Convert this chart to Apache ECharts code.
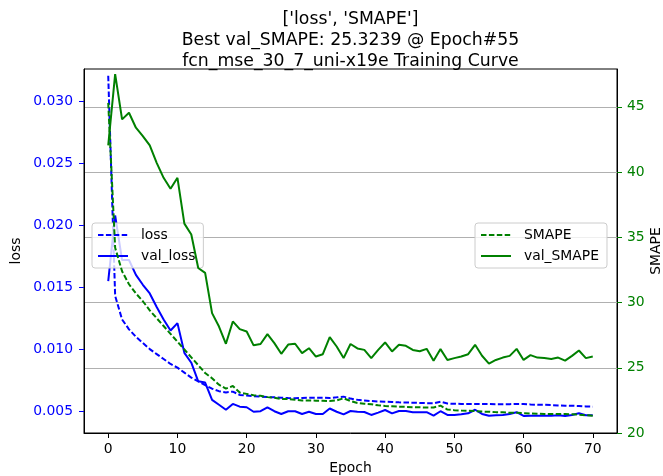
<!DOCTYPE html>
<html>
<head>
<meta charset="utf-8">
<script src="https://cdn.jsdelivr.net/npm/echarts@6/dist/echarts.min.js"></script>
<style>
html,body{margin:0;padding:0;background:#fff;}
#chart{width:663px;height:476px;}
</style>
</head>
<body>
<div id="chart"></div>
<script>
// ---- data ----
const epochs = [0,1,2,3,4,5,6,7,8,9,10,11,12,13,14,15,16,17,18,19,20,21,22,23,24,25,26,27,28,29,30,31,32,33,34,35,36,37,38,39,40,41,42,43,44,45,46,47,48,49,50,51,52,53,54,55,56,57,58,59,60,61,62,63,64,65,66,67,68,69,70];
const loss = [0.0321,0.0143,0.0124,0.0116,0.0110,0.0105,0.0100,0.0096,0.0092,0.0088,0.0085,0.0081,0.0077,0.0074,0.0071,0.0068,0.0066,0.0065,0.00656,0.0063,0.00625,0.0062,0.00616,0.00612,0.0061,0.00607,0.00604,0.00603,0.00605,0.00607,0.00607,0.00607,0.00605,0.0061,0.00616,0.006,0.0059,0.00585,0.0058,0.00577,0.00575,0.00573,0.0057,0.00568,0.00567,0.00565,0.00563,0.00562,0.00575,0.0056,0.00558,0.00557,0.00557,0.00557,0.00556,0.00556,0.00555,0.00555,0.00555,0.00557,0.00557,0.00553,0.0055,0.0055,0.00548,0.00545,0.00543,0.00542,0.0054,0.00537,0.00535];
const valLoss = [0.0155,0.0208,0.0172,0.0172,0.0160,0.0152,0.0145,0.0134,0.0124,0.0115,0.0121,0.0097,0.0089,0.0074,0.0073,0.0059,0.0055,0.0051,0.00557,0.00535,0.0053,0.00494,0.00498,0.0053,0.00498,0.00476,0.00498,0.00498,0.00476,0.00494,0.00476,0.00476,0.0052,0.00494,0.00473,0.005,0.00494,0.00492,0.00468,0.00487,0.00508,0.00481,0.005,0.005,0.0049,0.0049,0.0049,0.00462,0.00498,0.00468,0.00468,0.00473,0.00481,0.0051,0.00476,0.00462,0.00465,0.00468,0.00476,0.0049,0.0046,0.00462,0.00462,0.00462,0.00462,0.00465,0.0046,0.00468,0.00481,0.00465,0.00465];
const smape = [45.3,34.2,32.4,31.4,30.7,30.1,29.4,28.8,28.2,27.6,27.0,26.4,25.8,25.2,24.6,24.2,23.7,23.4,23.6,23.1,23.0,22.9,22.85,22.75,22.7,22.6,22.6,22.55,22.5,22.5,22.48,22.47,22.45,22.5,22.66,22.45,22.3,22.25,22.2,22.12,22.07,22.05,22.02,22.0,21.98,21.97,21.95,21.95,22.1,21.8,21.75,21.72,21.7,21.68,21.64,21.63,21.6,21.6,21.55,21.55,21.52,21.5,21.48,21.46,21.45,21.45,21.45,21.44,21.4,21.36,21.33];
const valSmape = [42.04,47.5,44.04,44.55,43.4,42.76,42.04,40.71,39.56,38.72,39.56,36.05,35.21,32.65,32.27,29.19,28.16,26.84,28.55,27.96,27.78,26.72,26.82,27.58,26.89,26.07,26.78,26.84,26.12,26.5,25.86,26.04,27.35,26.63,25.74,26.82,26.48,26.37,25.74,26.37,26.94,26.25,26.76,26.68,26.37,26.27,26.45,25.53,26.43,25.6,25.74,25.86,26.04,26.76,25.92,25.3239,25.6,25.78,25.91,26.45,25.6,25.97,25.78,25.74,25.68,25.78,25.55,25.91,26.32,25.74,25.86];
const xTicks = [0,10,20,30,40,50,60,70];
const lossTicks = [0.005,0.010,0.015,0.020,0.025,0.030];
const smapeTicks = [20,25,30,35,40,45];
const titleLines = ["['loss', 'SMAPE']", "Best val_SMAPE: 25.3239 @ Epoch#55", "fcn_mse_30_7_uni-x19e Training Curve"];

// ---- chart ----
const FONT = 'DejaVu Sans';
const BLUE = '#0000ff', GREEN = '#008000';
const pairs = (ys) => epochs.map((e, i) => [e, ys[i]]);
const chart = echarts.init(document.getElementById('chart'), null, {renderer: 'canvas'});
const legendBase = {
  orient: 'vertical', itemWidth: 30, itemHeight: 14, itemGap: 7,
  padding: [5, 8, 5, 5], borderColor: '#cccccc', borderWidth: 1, borderRadius: 3,
  backgroundColor: 'rgba(255,255,255,0.8)',
  itemStyle: {color: 'rgba(0,0,0,0)', borderWidth: 0, opacity: 0},
  textStyle: {fontFamily: FONT, fontSize: 13.9, color: '#000', padding: [0, 0, 0, 8]}
};
chart.setOption({
  animation: false,
  backgroundColor: '#fff',
  title: {
    text: titleLines.join('\n'), left: 350.5, top: 9, textAlign: 'center', padding: 0,
    textStyle: {fontFamily: FONT, fontSize: 17.3, fontWeight: 'normal', color: '#000', lineHeight: 21}
  },
  grid: {left: 84, right: 46, top: 69, bottom: 43, show: true, borderColor: '#000', borderWidth: 1,
    backgroundColor: 'transparent', containLabel: false, outerBoundsMode: 'none'},
  legend: [
    Object.assign({}, legendBase, {left: 92, top: 223, z: 4, data: ['loss', 'val_loss']}),
    Object.assign({}, legendBase, {left: 475, top: 223, z: 8, data: ['SMAPE', 'val_SMAPE']})
  ],
  xAxis: {
    type: 'value', min: -3.5, max: 73.5,
    name: 'Epoch', nameLocation: 'middle', nameGap: 28.5, nameMoveOverlap: false,
    nameTextStyle: {fontFamily: FONT, fontSize: 13.9, color: '#000'},
    axisLine: {show: true, onZero: false, lineStyle: {color: '#000', width: 1}},
    axisTick: {show: true, length: 5, lineStyle: {color: '#000'}, customValues: xTicks},
    axisLabel: {margin: 9, fontFamily: FONT, fontSize: 13.9, color: '#000', customValues: xTicks},
    splitLine: {show: false}
  },
  yAxis: [
    {
      type: 'value', position: 'left', min: 0.00322, max: 0.03264,
      name: 'loss', nameLocation: 'middle', nameGap: 61, nameRotate: 90, nameMoveOverlap: false,
      nameTextStyle: {fontFamily: FONT, fontSize: 13.9, color: '#000'},
      axisLine: {show: true, onZero: false, lineStyle: {color: '#000', width: 1}},
      axisTick: {show: true, length: 5, lineStyle: {color: BLUE}, customValues: lossTicks},
      axisLabel: {margin: 11, fontFamily: FONT, fontSize: 13.9, color: BLUE, customValues: lossTicks,
        formatter: v => v.toFixed(3)},
      splitLine: {show: false}
    },
    {
      type: 'value', position: 'right', min: 20, max: 47.9, interval: 5,
      name: 'SMAPE', nameLocation: 'middle', nameGap: 32, nameRotate: 90, nameMoveOverlap: false,
      nameTextStyle: {fontFamily: FONT, fontSize: 13.9, color: '#000'},
      axisLine: {show: true, onZero: false, lineStyle: {color: '#000', width: 1}},
      axisTick: {show: true, length: 5, lineStyle: {color: GREEN}, customValues: smapeTicks},
      axisLabel: {margin: 10, fontFamily: FONT, fontSize: 13.9, color: GREEN, customValues: smapeTicks},
      splitLine: {show: true, lineStyle: {color: '#b0b0b0', width: 1.1}}
    }
  ],
  series: [
    {name: 'loss', type: 'line', yAxisIndex: 0, data: pairs(loss), symbol: 'none', z: 2,
      lineStyle: {color: BLUE, width: 2, type: [5.5, 2.4]}, itemStyle: {color: BLUE}},
    {name: 'val_loss', type: 'line', yAxisIndex: 0, data: pairs(valLoss), symbol: 'none', z: 2,
      lineStyle: {color: BLUE, width: 2}, itemStyle: {color: BLUE}},
    {name: 'SMAPE', type: 'line', yAxisIndex: 1, data: pairs(smape), symbol: 'none', z: 6,
      lineStyle: {color: GREEN, width: 2, type: [5.5, 2.4]}, itemStyle: {color: GREEN}},
    {name: 'val_SMAPE', type: 'line', yAxisIndex: 1, data: pairs(valSmape), symbol: 'none', z: 6,
      lineStyle: {color: GREEN, width: 2}, itemStyle: {color: GREEN}}
  ]
});
</script>
</body>
</html>
